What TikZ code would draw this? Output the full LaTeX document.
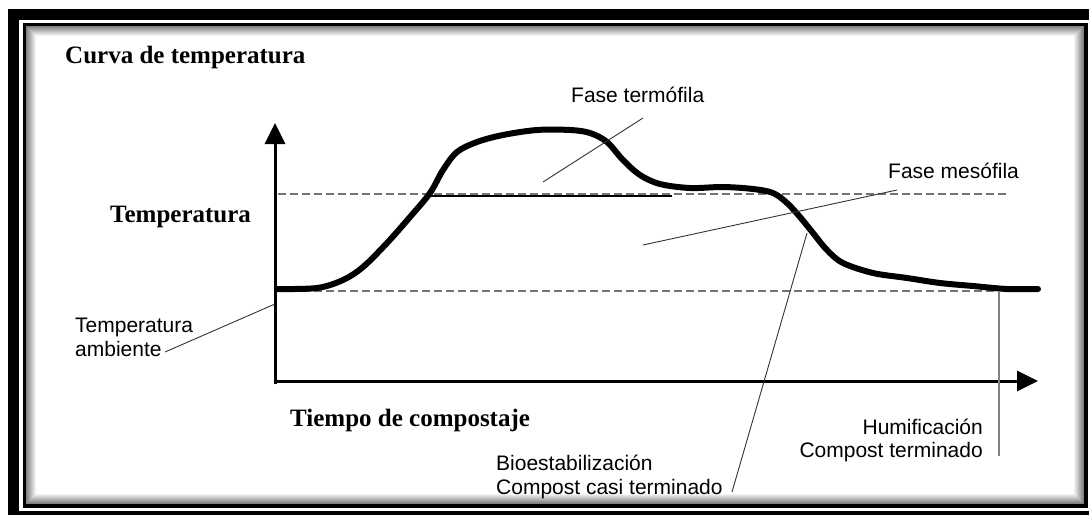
\documentclass[tikz,border=0pt]{standalone}
\usepackage{fontspec}
\setmainfont{Liberation Serif}
\setsansfont{Liberation Sans}
\usetikzlibrary{arrows.meta}
\begin{document}
\begin{tikzpicture}[x=1pt,y=-1pt,
  lbl/.style={font=\sffamily\fontsize{21}{24}\selectfont, inner sep=0pt, anchor=base west},
  ttl/.style={font=\bfseries\fontsize{25}{30}\selectfont, inner sep=0pt, anchor=base west},
  leader/.style={line width=0.9pt, black!80},
  guide/.style={line width=2.3pt, black!55, dash pattern=on 8pt off 4pt},
  axis/.style={line width=3pt, -{Triangle[length=21pt,width=20pt]}},
  tcurve/.style={line width=6pt, line join=round, line cap=round}]
\useasboundingbox (0,0) rectangle (1089,514);
\fill[white] (0,0) rectangle (1089,514);
% frame
\fill[black] (8,9) rectangle (1100,530);
\fill[white] (19,20) rectangle (1092,511);
\fill[black] (23,23) rectangle (1088,508);
\fill[white] (26,26) rectangle (1084,504);
\foreach \i in {0,...,9}{
  \pgfmathtruncatemacro{\pct}{50-5*\i}
  \draw[line width=1pt, black!\pct] (26.5+\i,26.5+\i) rectangle (1083.5-\i,503.5-\i);
}
% guides
\draw[guide] (278,194) -- (1007,194);
\draw[guide] (278,291) -- (1000,291);
\draw[line width=1.2pt] (430,196) -- (672,196);
% curve
\draw[tcurve] plot[smooth, tension=0.55] coordinates {
 (277,289) (317,288) (343,280) (363,267) (387,243) (410,217) (430,193)
 (443,170) (457,152) (477,142) (503,135) (537,130) (570,130) (590,133)
 (607,142) (623,160) (640,175) (660,184) (690,188) (723,187) (753,189)
 (773,193) (787,203) (800,217) (813,233) (827,250) (843,263) (873,273)
 (907,278) (940,283) (973,286) (1007,289) (1038,289)};
% axes
\coordinate (o) at (275,384);
\coordinate (ytip) at (275,123);
\coordinate (xo) at (273.5,381);
\coordinate (xtip) at (1038,381);
\draw[axis] (o) -- (ytip);
\draw[axis] (xo) -- (xtip);
% texts
\node[ttl] (title) at (65,63) {Curva de temperatura};
\node[ttl] (ylab) at (110,222) {Temperatura};
\node[ttl] (xlab) at (290,426) {Tiempo de compostaje};
\node[lbl] (termo) at (571,102) {Fase termófila};
\node[lbl] (meso) at (888,178) {Fase mesófila};
\node[lbl] (amb1) at (75,332) {Temperatura};
\node[lbl] (amb2) at (75,356) {ambiente};
\node[lbl] (bio1) at (496,470) {Bioestabilización};
\node[lbl] (bio2) at (496,494) {Compost casi terminado};
\node[lbl, anchor=base east] (hum1) at (983,434) {Humificación};
\node[lbl, anchor=base east] (hum2) at (983,457) {Compost terminado};
% leaders
\coordinate (t1) at (643,118); \coordinate (t2) at (543,182);
\coordinate (m1) at (897,190); \coordinate (m2) at (643,245);
\coordinate (b1) at (732,492); \coordinate (b2) at (807,233);
\coordinate (a1) at (165,352); \coordinate (a2) at (275,304);
\coordinate (h1) at (999,291); \coordinate (h2) at (999,456);
\draw[leader] (t1) -- (t2);
\draw[leader] (m1) -- (m2);
\draw[leader] (b1) -- (b2);
\draw[leader] (a1) -- (a2);
\draw[line width=1.3pt, black!50] (h1) -- (h2);
\end{tikzpicture}
\end{document}
